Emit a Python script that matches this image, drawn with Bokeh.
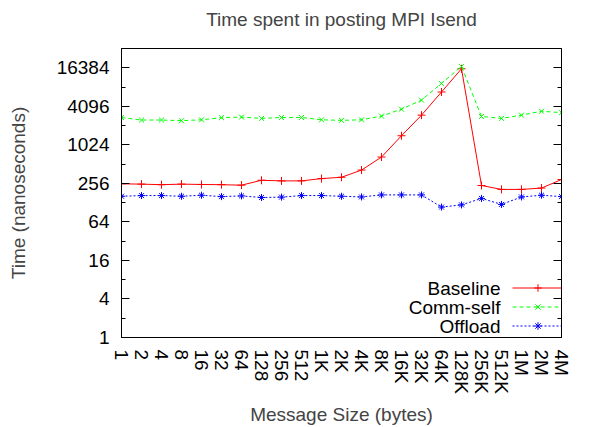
import math
from bokeh.plotting import figure
from bokeh.models import (FixedTicker, LogAxis, Legend, LegendItem, Label,
                          CustomLabelingPolicy)
from bokeh.embed import file_html
from bokeh.resources import INLINE

sizes = ["1", "2", "4", "8", "16", "32", "64", "128", "256", "512", "1K", "2K", "4K",
         "8K", "16K", "32K", "64K", "128K", "256K", "512K", "1M", "2M", "4M"]
baseline = [252, 249, 244, 249, 246, 244, 240, 286, 280, 280, 304, 319, 413, 660,
            1420, 2980, 6850, 15800, 237, 206, 206, 216, 294]
comm_self = [2740, 2500, 2500, 2440, 2520, 2720, 2780, 2650, 2740, 2740, 2520, 2470,
             2520, 2880, 3690, 5110, 9330, 17200, 2840, 2650, 2980, 3430, 3260]
offload = [161, 165, 165, 161, 167, 159, 163, 154, 156, 165, 165, 161, 157, 169, 169,
           169, 109, 118, 149, 120, 157, 167, 159]
series_names = ["Baseline", "Comm-self", "Offload"]
title_text = "Time spent in posting MPI Isend"
y_ticks = [1, 4, 16, 64, 256, 1024, 4096, 16384]
y_tick_labels = ["1", "4", "16", "64", "256", "1024", "4096", "16384"]
y_minor = [2, 8, 32, 128, 512, 2048, 8192, 32768]

idx = list(range(len(sizes)))
FONT = "Liberation Sans"
FS = "19px"

p = figure(width=595, height=427, y_axis_type="log", y_range=(1, 32768),
           x_range=(0, len(sizes) - 1), output_backend="svg", toolbar_location=None,
           title=title_text + "\n",
           min_border_left=121, min_border_right=8, min_border_top=48, min_border_bottom=85)

p.title.align = "center"
p.title.text_font = FONT
p.title.text_font_size = FS
p.title.text_font_style = "normal"
p.title.text_line_height = 0.87
p.title.standoff = 0
p.grid.visible = False
p.outline_line_color = "black"
p.outline_line_alpha = 1
p.background_fill_color = "white"
p.border_fill_color = "white"

# x axis
xa = p.xaxis[0]
xa.ticker = FixedTicker(ticks=idx)
xa.major_label_overrides = {i: s for i, s in zip(idx, sizes)}
xa.major_label_orientation = -math.pi / 2
xa.major_tick_in = 0
xa.major_tick_out = 0
xa.minor_tick_in = 0
xa.minor_tick_out = 0
xa.major_label_standoff = 12
xa.axis_label = "Message Size (bytes)"
xa.axis_label_standoff = 7
xa.major_label_text_font = FONT
xa.major_label_text_font_size = FS
xa.major_label_text_color = "black"
xa.axis_label_text_font = FONT
xa.axis_label_text_font_size = FS
xa.axis_label_text_font_style = "normal"
xa.axis_line_color = "black"

# y axis
ya = p.yaxis[0]
ya.ticker = FixedTicker(ticks=y_ticks, minor_ticks=y_minor)
ya.major_label_overrides = {t: s for t, s in zip(y_ticks, y_tick_labels)}
ya.major_tick_in = 8
ya.major_tick_out = 0
ya.minor_tick_in = 4
ya.minor_tick_out = 0
ya.major_label_standoff = 12
ya.axis_label = "Time (nanoseconds)"
ya.axis_label_standoff = 25
ya.major_label_text_font = FONT
ya.major_label_text_font_size = FS
ya.major_label_text_color = "black"
ya.axis_label_text_font = FONT
ya.axis_label_text_font_size = FS
ya.axis_label_text_font_style = "normal"
ya.axis_line_color = "black"
ya.major_tick_line_color = "black"
ya.minor_tick_line_color = "black"

# right mirrored axis (ticks only, labels suppressed)
ra = LogAxis(ticker=FixedTicker(ticks=y_ticks, minor_ticks=y_minor))
ra.major_label_policy = CustomLabelingPolicy(code="return []")
ra.major_label_standoff = 0
ra.major_tick_in = 8
ra.major_tick_out = 0
ra.minor_tick_in = 4
ra.minor_tick_out = 0
ra.axis_line_color = "black"
p.add_layout(ra, "right")

RED, GREEN, BLUE = "#ff0000", "#00ff00", "#0000ff"
l1 = p.line(idx, baseline, line_color=RED, line_width=1)
s1 = p.scatter(idx, baseline, marker="cross", size=8, line_color=RED, line_width=1)
l2 = p.line(idx, comm_self, line_color=GREEN, line_width=1, line_dash="4 3")
s2 = p.scatter(idx, comm_self, marker="x", size=7, line_color=GREEN, line_width=1)
l3 = p.line(idx, offload, line_color=BLUE, line_width=1, line_dash="2 2")
s3 = p.scatter(idx, offload, marker="asterisk", size=7, line_color=BLUE, line_width=1)

# gnuplot-style key: right-aligned text, then the sample
legend = Legend(items=[
    LegendItem(label="", renderers=[l1, s1]),
    LegendItem(label="", renderers=[l2, s2]),
    LegendItem(label="", renderers=[l3, s3]),
])
legend.location = (391, 2)
legend.background_fill_alpha = 0
legend.border_line_alpha = 0
legend.glyph_width = 51
legend.glyph_height = 19
legend.label_height = 19
legend.label_width = 0
legend.label_standoff = 0
legend.spacing = 0
legend.padding = 0
legend.margin = 0
p.add_layout(legend, "center")

for i, name in enumerate(series_names):
    p.add_layout(Label(x=379, y=49 - 19 * i, x_units="screen", y_units="screen",
                       text=name, text_align="right", text_baseline="middle",
                       text_font=FONT, text_font_size=FS, text_color="black"))

open("out.html", "w").write(file_html(p, INLINE))
